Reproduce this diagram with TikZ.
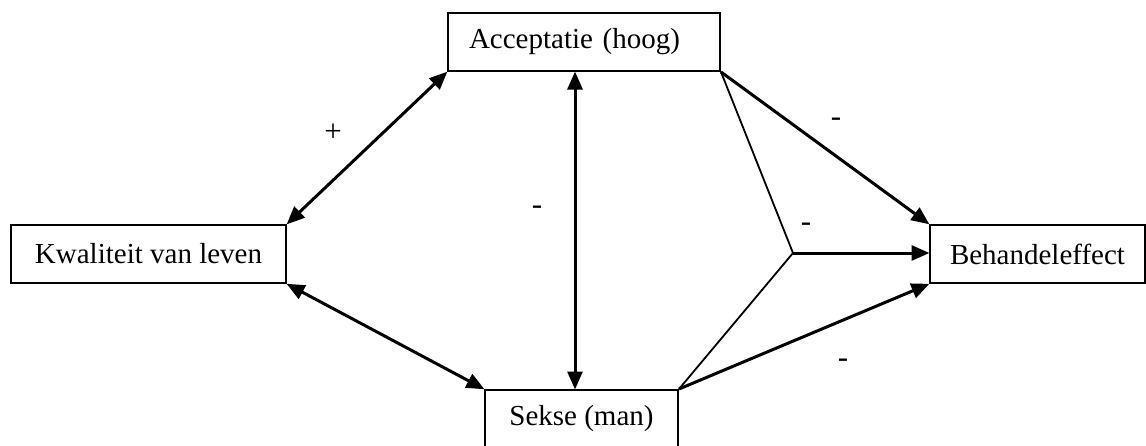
\documentclass[tikz,border=0pt]{standalone}
\usepackage{fontspec}
\setmainfont{Liberation Serif}
\usetikzlibrary{arrows.meta}
\tikzset{
  box/.style={draw=black, line width=2pt, rectangle, minimum height=58pt, inner sep=0pt, font=\fontsize{29}{33}\selectfont},
  dbl/.style={line width=3pt, {Triangle[length=18pt,width=15pt]}-{Triangle[length=18pt,width=15pt]}, shorten <=-0.5pt, shorten >=-0.5pt},
  arr/.style={line width=3pt, -{Triangle[length=18pt,width=15pt]}, shorten >=-0.5pt},
  thinline/.style={line width=1.8pt},
  lab/.style={inner sep=0pt, font=\fontsize{31}{35}\selectfont}
}
\begin{document}
\begin{tikzpicture}[x=1pt,y=-1pt]
\useasboundingbox (0,0) rectangle (1146,445);
\clip (0,0) rectangle (1146,445);
\node[box, minimum width=272pt, text width=230pt, inner xsep=21pt, align=left] (acc) at (584,42) {Acceptatie (hoog)};
\node[box, minimum width=275pt] (kwal) at (148.5,254) {Kwaliteit van leven};
\node[box, minimum width=215pt] (beh) at (1037.5,254) {Behandeleffect};
\node[box, minimum width=193pt] (sek) at (581.5,419) {Sekse (man)};
\coordinate (vx) at (575,0);
\coordinate (j) at (793,253);
\draw[dbl] (kwal.north east) -- (acc.south west);
\draw[dbl] (kwal.south east) -- (sek.north west);
\draw[dbl] (acc.south -| vx) -- (sek.north -| vx);
\draw[arr] (acc.south east) -- (beh.north west);
\draw[thinline] (acc.south east) -- (j) -- (sek.north east);
\draw[arr] (j) -- (j -| beh.west);
\draw[arr] (sek.north east) -- (beh.south west);
\node[lab] (l1) at (333,133) {+};
\node[lab] (l2) at (537,210) {-};
\node[lab] (l3) at (836,122) {-};
\node[lab] (l4) at (806,227) {-};
\node[lab] (l5) at (843,363) {-};
\end{tikzpicture}
\end{document}
